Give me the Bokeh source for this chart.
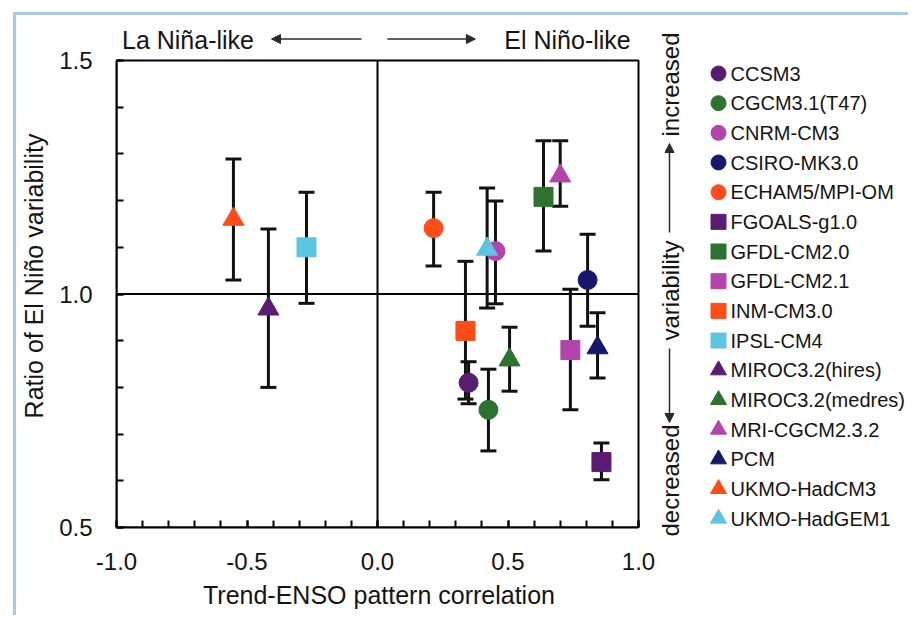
import math
from bokeh.plotting import figure
from bokeh.layouts import row
from bokeh.core.properties import value
from bokeh.models import (Range1d, Whisker, TeeHead, ColumnDataSource, BoxAnnotation,
                          Label, Arrow, NormalHead, SingleIntervalTicker, NumeralTickFormatter)
from bokeh.embed import file_html
from bokeh.resources import INLINE

# ---------------- data ----------------
models = ["CCSM3", "CGCM3.1(T47)", "CNRM-CM3", "CSIRO-MK3.0", "ECHAM5/MPI-OM",
          "FGOALS-g1.0", "GFDL-CM2.0", "GFDL-CM2.1", "INM-CM3.0", "IPSL-CM4",
          "MIROC3.2(hires)", "MIROC3.2(medres)", "MRI-CGCM2.3.2", "PCM",
          "UKMO-HadCM3", "UKMO-HadGEM1"]
corr = [0.349, 0.425, 0.452, 0.805, 0.215,
        0.858, 0.636, 0.739, 0.337, -0.272,
        -0.418, 0.506, 0.700, 0.843, -0.552, 0.420]
ratio = [0.810, 0.752, 1.092, 1.030, 1.141,
         0.640, 1.208, 0.880, 0.921, 1.100,
         0.968, 0.859, 1.253, 0.885, 1.160, 1.096]
ratio_lo = [0.765, 0.664, 0.979, 0.931, 1.060,
            0.602, 1.092, 0.752, 0.775, 0.980,
            0.800, 0.792, 1.188, 0.820, 1.030, 0.970]
ratio_hi = [0.855, 0.839, 1.199, 1.128, 1.218,
            0.681, 1.328, 1.010, 1.070, 1.218,
            1.139, 0.929, 1.328, 0.960, 1.289, 1.227]
markers = ["circle"] * 5 + ["square"] * 5 + ["triangle"] * 6
palette = ["#5a1c72", "#2c7330", "#b444ac", "#16186e", "#ff4c18", "#5cc6e0"]
color_idx = [0, 1, 2, 3, 4, 0, 1, 2, 4, 5, 0, 1, 2, 3, 4, 5]

x_label = "Trend-ENSO pattern correlation"
y_label = "Ratio of El Niño variability"
top_left_text = "La Niña-like"
top_right_text = "El Niño-like"
side_texts = ["increased", "variability", "decreased"]
x_lim = (-1.0, 1.0)
y_lim = (0.5, 1.5)

colors = [palette[k] for k in color_idx]

FONT = "Liberation Sans"
TXT = "#141414"
ARROW_C = "#2a2a2a"

# ---------------- layout geometry (pixels) ----------------
BOX_W, BOX_H = 522, 467          # the drawn plot box
FRAME_W, FRAME_H = 525, 503      # frame also holds the strip above the box
BORDER_L, BORDER_R = 100, 14
P1_TOP, P1_BOTTOM = 9, 88
P1_H = P1_TOP + FRAME_H + P1_BOTTOM
P2_W = 253
P2_H = P1_H
P2_SHIFT = -9                    # vertical offset of the right panel content

x_end = x_lim[0] + (x_lim[1] - x_lim[0]) * FRAME_W / BOX_W
y_end = y_lim[0] + (y_lim[1] - y_lim[0]) * FRAME_H / BOX_H

# ---------------- main plot ----------------
p1 = figure(frame_width=FRAME_W, frame_height=FRAME_H,
            x_range=Range1d(x_lim[0], x_end), y_range=Range1d(y_lim[0], y_end),
            output_backend="svg", toolbar_location=None,
            min_border_left=BORDER_L, min_border_right=BORDER_R,
            min_border_top=P1_TOP, min_border_bottom=P1_BOTTOM)
p1.xgrid.visible = False
p1.ygrid.visible = False
p1.outline_line_alpha = 0

p1.xaxis.ticker = SingleIntervalTicker(interval=0.5, num_minor_ticks=5)
p1.yaxis.ticker = SingleIntervalTicker(interval=0.5, num_minor_ticks=5)
p1.xaxis.formatter = NumeralTickFormatter(format="0.0")
p1.yaxis.formatter = NumeralTickFormatter(format="0.0")
p1.xaxis.bounds = x_lim
p1.yaxis.bounds = y_lim
p1.xaxis.axis_label = x_label
p1.yaxis.axis_label = y_label
for ax in (p1.xaxis[0], p1.yaxis[0]):
    ax.axis_line_width = 2
    ax.axis_line_color = "black"
    ax.major_tick_in = 7
    ax.major_tick_out = 0
    ax.minor_tick_in = 7
    ax.minor_tick_out = 0
    ax.major_tick_line_width = 2
    ax.minor_tick_line_width = 2
    ax.major_label_text_font = FONT
    ax.major_label_text_font_size = "24px"
    ax.major_label_text_color = TXT
    ax.axis_label_text_font = FONT
    ax.axis_label_text_font_size = "25px"
    ax.axis_label_text_font_style = "normal"
    ax.axis_label_text_color = TXT
p1.xaxis.major_label_standoff = 25
p1.xaxis.axis_label_standoff = 8
p1.yaxis.major_label_standoff = 24
p1.yaxis.axis_label_standoff = 8

# plot box and zero lines
p1.add_layout(BoxAnnotation(left=x_lim[0], right=x_lim[1], bottom=y_lim[0], top=y_lim[1],
                            fill_alpha=0, line_color="black", line_alpha=1, line_width=2,
                            level="underlay"))
p1.add_layout(Arrow(x_start=0, y_start=y_lim[0], x_end=0, y_end=y_lim[1], end=None,
                    line_color="black", line_width=2, level="underlay"))
p1.add_layout(Arrow(x_start=x_lim[0], y_start=1.0, x_end=x_lim[1], y_end=1.0, end=None,
                    line_color="black", line_width=2, level="underlay"))

src = ColumnDataSource(dict(x=corr, lo=ratio_lo, hi=ratio_hi))
p1.add_layout(Whisker(base="x", lower="lo", upper="hi", source=src, dimension="height",
                      line_color="#111111", line_width=3,
                      upper_head=TeeHead(size=16, line_width=3, line_color="#111111"),
                      lower_head=TeeHead(size=16, line_width=3, line_color="#111111")))

pts = ColumnDataSource(dict(x=corr, y=ratio, marker=markers, color=colors,
                            size=[21 if m == "triangle" else 19 for m in markers]))
p1.scatter(x="x", y="y", marker="marker", size="size", fill_color="color", line_color="color",
           source=pts)


def head():
    return NormalHead(size=9, line_color=ARROW_C, fill_color=ARROW_C)


# strip above the box (inside the frame)
text_y, arrow_y = 1.544, 1.546
p1.add_layout(Label(x=-0.726, y=text_y, text=top_left_text, text_align="center",
                    text_baseline="middle", text_font=FONT, text_font_size="25px", text_color=TXT))
p1.add_layout(Label(x=0.728, y=text_y, text=top_right_text, text_align="center",
                    text_baseline="middle", text_font=FONT, text_font_size="25px", text_color=TXT))
p1.add_layout(Arrow(x_start=-0.061, y_start=arrow_y, x_end=-0.406, y_end=arrow_y, line_width=1.5,
                    line_color=ARROW_C, end=head()))
p1.add_layout(Arrow(x_start=0.038, y_start=arrow_y, x_end=0.375, y_end=arrow_y, line_width=1.5,
                    line_color=ARROW_C, end=head()))

# ---------------- right panel: side annotation + legend ----------------
p2 = figure(frame_width=P2_W, frame_height=P2_H, x_range=Range1d(0, P2_W), y_range=Range1d(P2_H, 0),
            output_backend="svg", toolbar_location=None,
            min_border_left=0, min_border_right=0, min_border_top=0, min_border_bottom=0,
            x_axis_location=None, y_axis_location=None)
p2.grid.visible = False
p2.outline_line_alpha = 0

side_x, side_arrow_x = 15, 14
for txt, yy in zip(side_texts, (69, 275, 465)):
    p2.add_layout(Label(x=side_x, y=yy + P2_SHIFT, text=txt, angle=math.pi / 2, text_align="center",
                        text_baseline="middle", text_font=FONT, text_font_size="24px",
                        text_color=TXT))
p2.add_layout(Arrow(x_start=side_arrow_x, y_start=217 + P2_SHIFT, x_end=side_arrow_x,
                    y_end=128 + P2_SHIFT, line_width=1.5, line_color=ARROW_C, end=head()))
p2.add_layout(Arrow(x_start=side_arrow_x, y_start=333 + P2_SHIFT, x_end=side_arrow_x,
                    y_end=407 + P2_SHIFT, line_width=1.5, line_color=ARROW_C, end=head()))

LEG_MX, LEG_TX, LEG_Y0, LEG_DY = 63, 75, 58 + P2_SHIFT, 29.67
leg = ColumnDataSource(dict(
    x=[LEG_MX] * len(models), tx=[LEG_TX] * len(models),
    y=[LEG_Y0 + LEG_DY * i for i in range(len(models))],
    marker=markers, color=colors, label=models,
    size=[16 if m == "triangle" else 15 for m in markers]))
p2.scatter(x="x", y="y", marker="marker", size="size", fill_color="color", line_color="color",
           source=leg)
p2.text(x="tx", y="y", text="label", source=leg, text_font=value(FONT), text_font_size=value("20px"),
        text_baseline="middle", text_align="left", text_color=TXT)

layout = row(p1, p2)
layout.margin = (12, 0, 0, 13)
layout.styles = {"border-left": "3px solid #a9c9ea", "border-top": "3px solid #a9c9ea"}

open("out.html", "w").write(file_html(layout, INLINE))
